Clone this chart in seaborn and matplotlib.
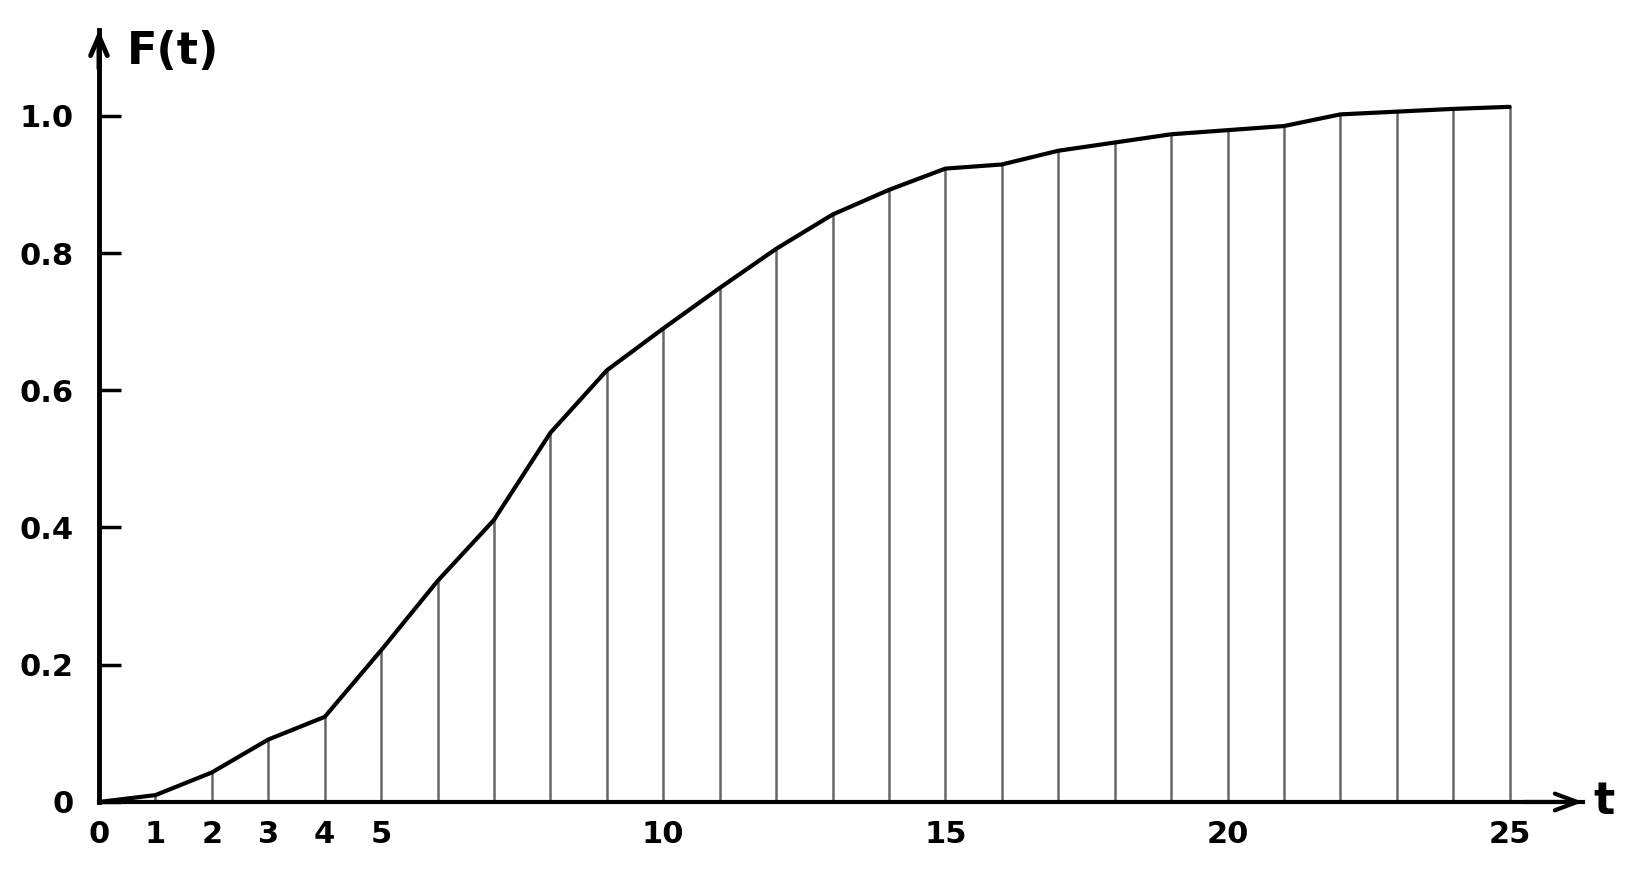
import numpy as np
import pandas as pd
import matplotlib
matplotlib.use("Agg")
import matplotlib.pyplot as plt
import seaborn as sns

# valores
t_vals = list(range(0, 26))
F_vals = [0.0, 0.01, 0.043, 0.091, 0.124, 0.221, 0.322, 0.411, 0.538, 0.629,
          0.690, 0.749, 0.806, 0.856, 0.892, 0.923, 0.929, 0.949, 0.961, 0.973,
          0.979, 0.985, 1.002, 1.006, 1.010, 1.013]
x_ticks = [0, 1, 2, 3, 4, 5, 10, 15, 20, 25]
y_ticks = [0, 0.2, 0.4, 0.6, 0.8, 1.0]
y_labels = ["0", "0.2", "0.4", "0.6", "0.8", "1.0"]

df = pd.DataFrame({"t": t_vals, "F": F_vals})

sns.set_style("white")
plt.rcParams["font.family"] = ["DejaVu Sans"]

fig = plt.figure(figsize=(16.33, 8.74), dpi=100)
ax = fig.add_axes([0.0606, 0.0824, 0.9088, 0.8833])

# linhas verticais sob a curva
ax.vlines(df["t"], 0, df["F"], color="#666666", lw=1.8, zorder=1)
sns.lineplot(data=df, x="t", y="F", color="black", lw=3.0, ax=ax, zorder=2)

ax.set_xlim(0, 26.3)
ax.set_ylim(0, 1.125)

ax.set_xticks(x_ticks)
ax.set_xticklabels([str(v) for v in x_ticks])
ax.set_yticks(y_ticks)
ax.set_yticklabels(y_labels)
ax.tick_params(axis="x", bottom=False, length=0, pad=13, labelsize=22,
               labelcolor="black")
ax.tick_params(axis="y", left=True, direction="in", length=16, width=2.5,
               pad=18, labelsize=22, color="black", labelcolor="black")
for lab in ax.get_xticklabels() + ax.get_yticklabels():
    lab.set_fontweight("bold")

ax.set_xlabel("")
ax.set_ylabel("")
sns.despine(ax=ax, top=True, right=True)
ax.spines["left"].set_linewidth(3.5)
ax.spines["bottom"].set_linewidth(3.0)
ax.spines["left"].set_color("black")
ax.spines["bottom"].set_color("black")

# setas dos eixos
ax.annotate("", xy=(1.0, 0), xytext=(0.96, 0), xycoords="axes fraction",
            arrowprops=dict(arrowstyle="->,head_length=1.6,head_width=0.6",
                            lw=3, color="black", shrinkA=0, shrinkB=0),
            annotation_clip=False)
ax.annotate("", xy=(0, 1.0), xytext=(0, 0.95), xycoords="axes fraction",
            arrowprops=dict(arrowstyle="->,head_length=1.4,head_width=0.6",
                            lw=3.5, color="black", shrinkA=0, shrinkB=0),
            annotation_clip=False)

ax.text(0.019, 0.972, "F(t)", transform=ax.transAxes, fontsize=32,
        fontweight="bold", ha="left", va="center", color="black")
ax.text(1.007, 0.0, "t", transform=ax.transAxes, fontsize=32,
        fontweight="bold", ha="left", va="center", color="black")

fig.savefig("out.png", dpi=100, facecolor="white")
